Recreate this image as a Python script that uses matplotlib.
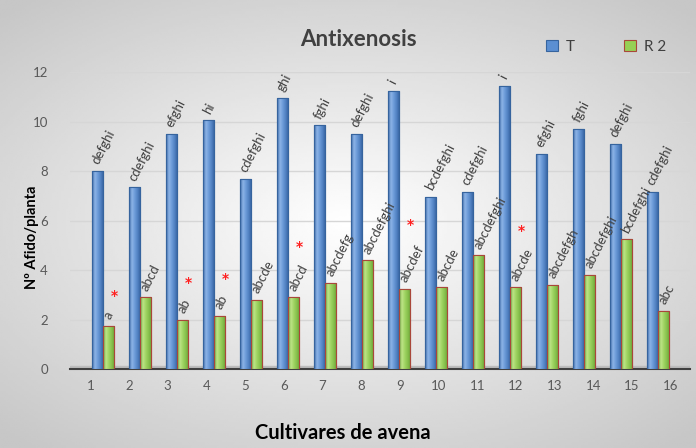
import matplotlib.pyplot as plt
import numpy as np
from matplotlib.colors import LinearSegmentedColormap

plt.rcParams["font.family"] = ["Lato", "DejaVu Sans"]

# data
cultivars = [str(i) for i in range(1, 17)]
t_values = [8.0, 7.35, 9.5, 10.05, 7.7, 10.95, 9.85, 9.5,
            11.25, 6.95, 7.15, 11.45, 8.7, 9.7, 9.1, 7.15]
r2_values = [1.75, 2.9, 2.0, 2.15, 2.8, 2.9, 3.5, 4.4,
             3.25, 3.3, 4.6, 3.3, 3.4, 3.8, 5.25, 2.35]
t_letters = ["defghi", "cdefghi", "efghi", "hi", "cdefghi", "ghi", "fghi", "defghi",
             "i", "bcdefghi", "cdefghi", "i", "efghi", "fghi", "defghi", "cdefghi"]
r2_letters = ["a", "abcd", "ab", "ab", "abcde", "abcd", "abcdefg", "abcdefghi",
              "abcdef", "abcde", "abcdefghi", "abcde", "abcdefgh", "abcdefghi", "bcdefghi", "abc"]
significant = [1, 3, 4, 6, 9, 12]

BLUE = "#5b8fd2"
BLUE_EDGE = "#36649e"
GREEN = "#96d055"
GREEN_EDGE = "#a9473a"
TEXT = "#404040"

blue_cmap = LinearSegmentedColormap.from_list(
    "cyl_b", ["#3d69a8", "#8db4e6", "#6b9ad8", "#4f7fc0", "#34609c"])
green_cmap = LinearSegmentedColormap.from_list(
    "cyl_g", ["#6ea63a", "#bde487", "#9fd462", "#86c04c", "#6a9f36"])

fig = plt.figure(figsize=(6.96, 4.48), dpi=100)

# background gradient
bg = fig.add_axes([0, 0, 1, 1], zorder=-10)
yy, xx = np.mgrid[-1:1:200j, -1:1:300j]
r = np.sqrt((xx * 0.9) ** 2 + (yy * 1.0) ** 2)
bg.imshow(1 - 0.17 * np.clip(r, 0, 1.3), cmap="gray", vmin=0, vmax=1,
          aspect="auto", extent=[0, 1, 0, 1])
bg.axis("off")

ax = fig.add_axes([0.101, 0.176, 0.890, 0.663])
ax.set_facecolor("none")
x = np.arange(1, len(cultivars) + 1)
ax.set_xlim(1 - 32.5 / 37, 16 + 32 / 37)
ax.set_ylim(0, 12)

ax.axhspan(0, 0.13, color="#bdbdbd", zorder=1)
for gy in range(2, 13, 2):
    ax.axhline(gy, color="#d6d6d6", lw=1, zorder=0)

bw = 0.3
bars_t = ax.bar(x - 0.15, t_values, bw, color=BLUE, edgecolor=BLUE_EDGE, lw=0.8, zorder=3, label="T")
bars_r = ax.bar(x + 0.15, r2_values, bw, color=GREEN, edgecolor=GREEN_EDGE, lw=0.8, zorder=3, label="R 2")

# cylinder-like shading inside each bar
grad = np.linspace(0, 1, 64).reshape(1, -1)
for bars, cmap in [(bars_t, blue_cmap), (bars_r, green_cmap)]:
    for p in bars:
        x0, w, h = p.get_x(), p.get_width(), p.get_height()
        im = ax.imshow(grad, cmap=cmap, aspect="auto", extent=[x0, x0 + w, 0, h],
                       zorder=3.5, interpolation="bilinear")
        im.set_clip_path(p)
        ax.bar(x0 + w / 2, h, w, fill=False, edgecolor=p.get_edgecolor(), lw=0.8, zorder=4)
ax.set_xlim(1 - 32.5 / 37, 16 + 32 / 37)
ax.set_ylim(0, 12)

for i, (tv, rv, tl, rl) in enumerate(zip(t_values, r2_values, t_letters, r2_letters)):
    ax.text(x[i] - 0.2, tv + 0.3, tl, rotation=63, rotation_mode="anchor",
            ha="left", va="center", fontsize=9.5, color=TEXT, zorder=5)
    ax.text(x[i] + 0.12, rv + 0.3, rl, rotation=63, rotation_mode="anchor",
            ha="left", va="center", fontsize=9.5, color=TEXT, zorder=5)
    if i + 1 in significant:
        ax.text(x[i] + 0.3, rv + 0.95 + 0.27 * len(rl), "*", color="#ff2020",
                fontsize=10, fontweight="bold", family="DejaVu Sans",
                ha="center", va="center", zorder=5)

ax.set_yticks(range(0, 13, 2))
ax.tick_params(axis="y", length=0, labelsize=9.5, labelcolor="#595959", pad=16)
ax.set_xticks([])
for s in ["top", "right", "left"]:
    ax.spines[s].set_visible(False)
ax.spines["bottom"].set_color("#404040")
ax.spines["bottom"].set_linewidth(1.5)

# category labels sit on a slightly wider scale than the bars (perspective)
cx = ax.twiny()
cx.set_xlim(1 - 20 / 38.73, 16 + 19 / 38.73)
cx.xaxis.set_ticks_position("bottom")
cx.set_xticks(x)
cx.set_xticklabels(cultivars)
cx.tick_params(axis="x", length=0, labelsize=9.5, labelcolor="#595959", pad=8)
for s in cx.spines.values():
    s.set_visible(False)

fig.text(32 / 696, 1 - 237 / 448, "Nº Afido/planta", rotation=90, ha="center", va="center",
         fontsize=10.5, fontweight="bold", color="black")
fig.text(343 / 696, 1 - 433 / 448, "Cultivares de avena", ha="center", va="center",
         fontsize=14.5, fontweight="bold", color="black")
fig.text(358 / 696, 1 - 39 / 448, "Antixenosis", ha="center", va="center",
         fontsize=16, fontweight="bold", color="#404040")
ax.legend(handles=[bars_t, bars_r], loc="center", bbox_to_anchor=(0.865, 1.085), ncol=2,
          frameon=False, fontsize=11, handlelength=0.8, handleheight=0.8, columnspacing=3.2,
          handletextpad=0.5, labelcolor="#404040")

fig.savefig("out.png", dpi=100)
